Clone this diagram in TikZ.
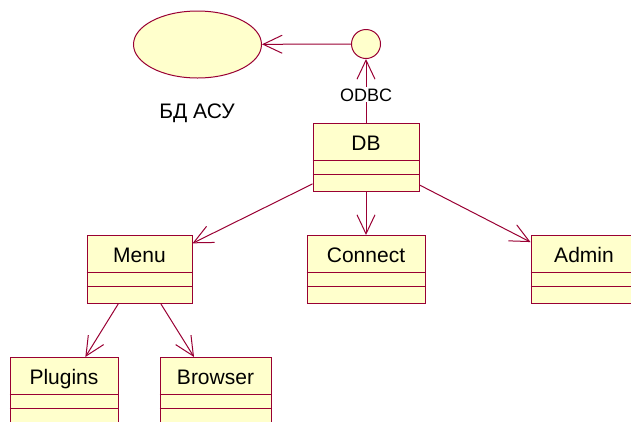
\documentclass[tikz,border=0pt]{standalone}
\usepackage{fontspec}
\setmainfont{Liberation Sans}
\usetikzlibrary{shapes.geometric,arrows.meta}
\definecolor{umlline}{HTML}{990033}
\definecolor{umlfill}{HTML}{FFFFCC}

\tikzset{
  classbox/.style={draw=umlline, fill=umlfill, line width=1pt, rectangle,
    inner sep=0pt, minimum height=68pt},
  classname/.style={anchor=base, font=\fontsize{21}{25}\selectfont, inner sep=0pt},
  divider/.style={draw=umlline, line width=1pt},
  link/.style={draw=umlline, line width=1pt,
    -{Straight Barb[length=19pt,width=18pt,line width=1pt]}},
}

% class box: name, x centre, y top, width, title
\newcommand\umlclass[5]{%
  \node[classbox, minimum width=#4pt, anchor=north] (#1) at (#2,#3) {};
  \node[classname] (#1-title) at ([yshift=-27.5pt]#1.north) {#5};
  \draw[divider] ([yshift=-37pt]#1.north west) -- ([yshift=-37pt]#1.north east);
  \draw[divider] ([yshift=-51pt]#1.north west) -- ([yshift=-51pt]#1.north east);
}

\begin{document}
\begin{tikzpicture}[x=1pt, y=-1pt]
  \useasboundingbox (0,0) rectangle (631,421);

  % database use case and its interface
  \node[ellipse, draw=umlline, fill=umlfill, line width=1pt, inner sep=0pt,
        minimum width=128pt, minimum height=67pt] (bdasu) at (197.5,44.5) {};
  \node[anchor=base, font=\fontsize{21}{25}\selectfont, inner sep=0pt]
        (bdasu-title) at (197,118) {БД АСУ};
  \node[circle, draw=umlline, fill=umlfill, line width=1pt, inner sep=0pt,
        minimum size=29pt] (iface) at (366,44) {};

  % classes
  \umlclass{db}{366}{123}{106}{DB}
  \umlclass{menu}{139.5}{235}{105}{Menu}
  \umlclass{connect}{366}{235}{118}{Connect}
  \umlclass{admin}{584}{235}{106}{Admin}
  \umlclass{plugins}{64}{357}{108}{Plugins}
  \umlclass{browser}{215.5}{357}{111}{Browser}

  % dependencies
  \draw[link] (iface) -- (bdasu);
  \draw[link] (db) -- (iface);
  \node[anchor=base, font=\fontsize{18}{22}\selectfont, fill=white,
        inner sep=1pt] (odbc) at (366,101) {ODBC};
  \draw[link] (db) -- (menu);
  \draw[link] (db) -- (connect);
  \draw[link] (db) -- (admin);
  \draw[link] (menu) -- (plugins);
  \draw[link] (menu) -- (browser);
\end{tikzpicture}
\end{document}
